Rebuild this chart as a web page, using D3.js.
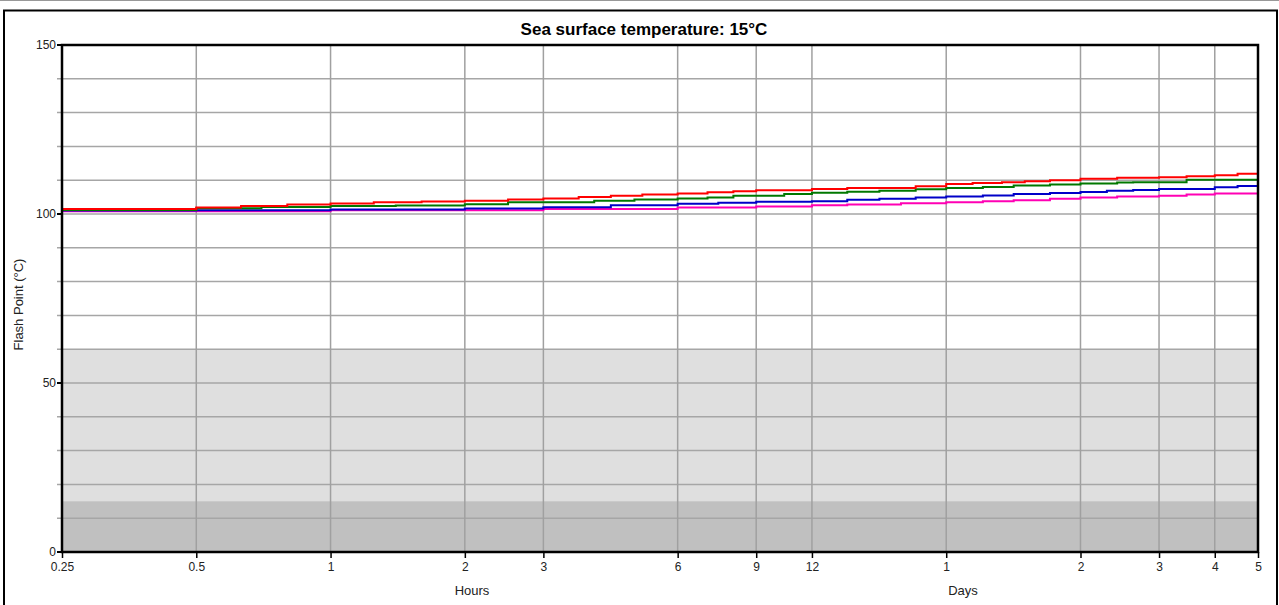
<!DOCTYPE html>
<html>
<head>
<meta charset="utf-8">
<script src="https://cdn.jsdelivr.net/npm/d3@7/dist/d3.min.js"></script>
<style>
  html, body { margin: 0; padding: 0; background: #fff; }
  svg { display: block; font-family: "Liberation Sans", Arial, sans-serif; }
</style>
</head>
<body>
<svg id="chart" width="1279" height="605"></svg>
<script>
// ---- data ----
const chartTitle = "Sea surface temperature: 15°C";
const yTitle = "Flash Point (°C)";
const hourTicks = [0.25, 0.5, 1, 2, 3, 6, 9, 12];
const hourTickLabels = ["0.25", "0.5", "1", "2", "3", "6", "9", "12"];
const dayTicks = [1, 2, 3, 4, 5];
const dayTickLabels = ["1", "2", "3", "4", "5"];
const yTicks = [0, 10, 20, 30, 40, 50, 60, 70, 80, 90, 100, 110, 120, 130, 140, 150];
const yTickLabels = ["0", "50", "100", "150"];
const bandLight = [0, 60];
const bandDark = [0, 15];

// time grid in hours (step points)
const hours = [0.25, 0.5, 0.63, 0.7, 0.8, 1, 1.25, 1.4, 1.6, 2, 2.5, 3, 3.6, 3.9, 4.25, 4.8, 5, 6, 7, 7.4, 8, 9, 10.4, 12, 14.4, 16.2, 17, 19, 20.5, 24, 27.5, 29, 32, 34, 36, 41, 48, 55, 58, 63, 72, 83, 96, 108, 120];

const redSeries = [101.5, 101.9, 102.4, 102.4, 102.8, 103.1, 103.5, 103.5, 103.7, 103.9, 104.3, 104.6, 105.0, 105.0, 105.4, 105.4, 105.8, 106.1, 106.4, 106.4, 106.7, 107.0, 107.0, 107.4, 107.7, 107.7, 107.7, 107.7, 108.2, 108.9, 109.2, 109.2, 109.4, 109.4, 109.7, 110.0, 110.4, 110.4, 110.7, 110.7, 110.9, 111.2, 111.5, 111.9, 111.9];
const greenSeries = [101.2, 101.7, 101.7, 102.1, 102.1, 102.4, 102.4, 102.5, 102.5, 102.9, 103.5, 103.5, 103.5, 103.9, 103.9, 104.3, 104.3, 104.6, 104.9, 104.9, 105.4, 105.4, 105.9, 106.3, 106.6, 106.6, 106.9, 106.9, 107.3, 107.7, 107.7, 108.0, 108.0, 108.4, 108.4, 108.7, 109.0, 109.0, 109.3, 109.4, 109.4, 110.1, 110.1, 110.1, 110.1];
const blueSeries = [101.0, 101.1, 101.1, 101.1, 101.1, 101.3, 101.3, 101.3, 101.3, 101.6, 101.6, 102.0, 102.0, 102.0, 102.6, 102.6, 102.6, 103.0, 103.0, 103.3, 103.3, 103.6, 103.6, 103.8, 104.2, 104.2, 104.5, 104.5, 104.9, 105.2, 105.2, 105.5, 105.5, 105.9, 105.9, 106.2, 106.5, 106.9, 106.9, 107.1, 107.4, 107.4, 107.9, 108.3, 108.3];
const magentaSeries = [100.8, 100.8, 100.8, 100.8, 100.8, 101.1, 101.1, 101.1, 101.1, 101.1, 101.1, 101.5, 101.5, 101.5, 101.5, 101.5, 101.5, 101.9, 101.9, 101.9, 101.9, 102.2, 102.2, 102.6, 102.8, 102.8, 102.8, 103.2, 103.2, 103.5, 103.5, 103.8, 103.8, 104.1, 104.1, 104.5, 104.9, 104.9, 105.2, 105.2, 105.4, 105.8, 106.1, 106.1, 106.1];

const seriesList = [
  { name: "magenta", values: magentaSeries, color: "#ff00b4" },
  { name: "blue", values: blueSeries, color: "#0000c8" },
  { name: "green", values: greenSeries, color: "#007800" },
  { name: "red", values: redSeries, color: "#ff0000" }
];

// ---- layout ----
const svg = d3.select("#chart");
const L = 62, R = 1258, T = 45, B = 552;
const x = d3.scaleLog().domain([0.25, 120]).range([L, R]);
const y = d3.scaleLinear().domain([0, 150]).range([B, T]);

// outer frame
svg.append("line").attr("x1", 0).attr("x2", 1279).attr("y1", 0.5).attr("y2", 0.5)
  .attr("stroke", "#999").attr("stroke-width", 1);
svg.append("path").attr("d", "M4,620 L4,10.5 L1277,10.5 L1277,620")
  .attr("fill", "none").attr("stroke", "#000").attr("stroke-width", 2);

// bands
svg.append("rect").attr("x", L).attr("width", R - L)
  .attr("y", y(bandLight[1])).attr("height", y(bandLight[0]) - y(bandLight[1]))
  .attr("fill", "#dfdfdf");
svg.append("rect").attr("x", L).attr("width", R - L)
  .attr("y", y(bandDark[1])).attr("height", y(bandDark[0]) - y(bandDark[1]))
  .attr("fill", "#c0c0c0");

// horizontal gridlines
svg.append("g").selectAll("line").data(yTicks).join("line")
  .attr("x1", L - 5).attr("x2", R)
  .attr("y1", d => y(d)).attr("y2", d => y(d))
  .attr("stroke", "#a6a6a6").attr("stroke-width", 1.5);

// vertical gridlines
const allX = hourTicks.concat(dayTicks.map(d => d * 24));
svg.append("g").selectAll("line").data(allX).join("line")
  .attr("x1", d => x(d)).attr("x2", d => x(d))
  .attr("y1", T).attr("y2", B)
  .attr("stroke", "#a0a0a0").attr("stroke-width", 1.5);

// series lines
svg.append("clipPath").attr("id", "clip").append("rect")
  .attr("x", L).attr("y", T).attr("width", R - L).attr("height", B - T);
const line = d3.line().curve(d3.curveStepAfter);
const gLines = svg.append("g").attr("clip-path", "url(#clip)");
seriesList.forEach(s => {
  gLines.append("path")
    .attr("d", line(hours.map((h, i) => [x(h), y(s.values[i])])))
    .attr("fill", "none").attr("stroke", s.color).attr("stroke-width", 2);
});

// plot border
svg.append("rect").attr("x", L).attr("y", T).attr("width", R - L).attr("height", B - T)
  .attr("fill", "none").attr("stroke", "#000").attr("stroke-width", 2.5);

// x axes
const axisHours = d3.axisBottom(x).tickValues(hourTicks)
  .tickFormat((d, i) => hourTickLabels[i]).tickSize(6).tickSizeOuter(0);
const axisDays = d3.axisBottom(x).tickValues(dayTicks.map(d => d * 24))
  .tickFormat((d, i) => dayTickLabels[i]).tickSize(6).tickSizeOuter(0);
[axisHours, axisDays].forEach(ax => {
  const g = svg.append("g").attr("transform", `translate(0,${B})`).call(ax);
  g.select(".domain").remove();
  g.selectAll(".tick line").attr("stroke", "#000").attr("stroke-width", 1.5);
  g.selectAll(".tick text").attr("dy", 0).attr("y", 19)
    .attr("font-size", 12).attr("fill", "#222")
    .attr("font-family", "'Liberation Sans', Arial, sans-serif");
});

// y axis labels
const yLab = svg.append("g");
yTickLabels.forEach(lbl => {
  const v = +lbl;
  yLab.append("line").attr("x1", L - 5).attr("x2", L).attr("y1", y(v)).attr("y2", y(v))
    .attr("stroke", "#000").attr("stroke-width", 2);
  yLab.append("text").attr("x", L - 6).attr("y", y(v)).attr("dy", "0.35em")
    .attr("text-anchor", "end").attr("font-size", 12).attr("fill", "#222").text(lbl);
});

// titles
svg.append("text").attr("x", 644).attr("y", 35).attr("text-anchor", "middle")
  .attr("font-size", 17).attr("font-weight", "bold").attr("fill", "#000").text(chartTitle);
svg.append("text").attr("x", 472).attr("y", 595).attr("text-anchor", "middle")
  .attr("font-size", 13).attr("fill", "#222").text("Hours");
svg.append("text").attr("x", 963).attr("y", 595).attr("text-anchor", "middle")
  .attr("font-size", 13).attr("fill", "#222").text("Days");
svg.append("text").attr("transform", `translate(23,${(T + B) / 2 + 6}) rotate(-90)`)
  .attr("text-anchor", "middle").attr("font-size", 13).attr("fill", "#222").text(yTitle);
</script>
</body>
</html>
